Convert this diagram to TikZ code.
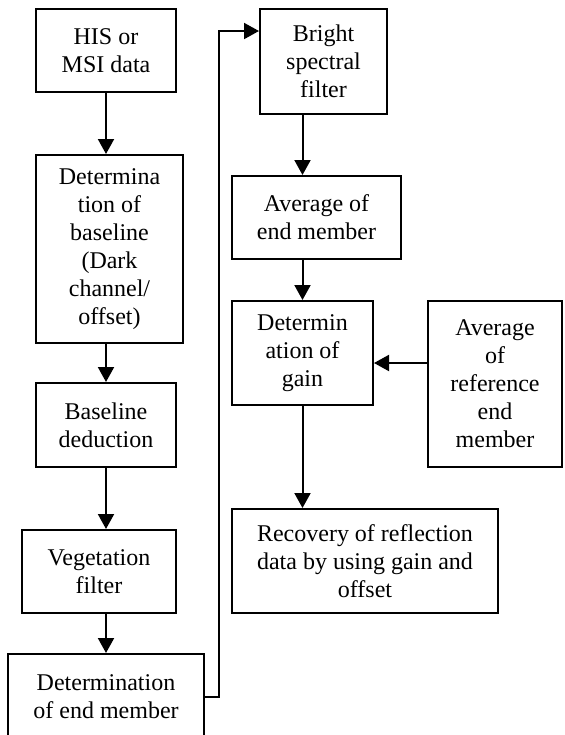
\documentclass[tikz,border=0pt]{standalone}
\usepackage{fontspec}
\setmainfont{Liberation Serif}
\usetikzlibrary{arrows.meta,positioning,calc}

\begin{document}
\begin{tikzpicture}[x=0.5pt,y=-0.5pt,
  box/.style={draw,line width=1pt,align=center,inner sep=0pt,
    font=\fontsize{12}{14}\selectfont},
  arr/.style={line width=1pt,-{Triangle[length=7.5pt,width=8pt]}}]
  \useasboundingbox (0,0) rectangle (564,735);
  \clip (0,0) rectangle (564,735);
  % left column
  \node[box,minimum width=70pt,minimum height=41.5pt] (his) at (106,50.5) {HIS or\\MSI data};
  \node[box,minimum width=73.5pt,minimum height=94pt] (base) at (109.5,249) {Determina\\tion of\\baseline\\(Dark\\channel/\\offset)};
  \node[box,minimum width=70pt,minimum height=42pt] (deduct) at (106,425) {Baseline\\deduction};
  \node[box,minimum width=77pt,minimum height=41.5pt] (veg) at (99,571.5) {Vegetation\\filter};
  \node[box,minimum width=98pt,minimum height=43pt] (endm) at (106,697) {Determination\\of end member};
  % right column
  \node[box,minimum width=63.5pt,minimum height=52.5pt] (bright) at (323.5,61.5) {Bright\\spectral\\filter};
  \node[box,minimum width=84.5pt,minimum height=41.5pt] (avg) at (316.5,217.5) {Average of\\end member};
  \node[box,minimum width=70.5pt,minimum height=52pt] (gain) at (302.5,353) {Determin\\ation of\\gain};
  \node[box,minimum width=67pt,minimum height=83pt] (ref) at (495,384) {Average\\of\\reference\\end\\member};
  \node[box,minimum width=133pt,minimum height=52pt] (recov) at (365,561) {Recovery of reflection\\data by using gain and\\offset};
  \coordinate (turn) at (219,31);
  % arrows
  \draw[arr] (his.south -| 106,0) -- (base.north -| 106,0);
  \draw[arr] (base.south -| deduct.north) -- (deduct.north);
  \draw[arr] (deduct.south) -- (deduct.south |- veg.north);
  \draw[arr] (veg.south -| endm.north) -- (endm.north);
  \draw[arr] (endm.east) -| (turn) -- (turn -| bright.west);
  \draw[arr] (gain.north |- bright.south) -- (gain.north |- avg.north);
  \draw[arr] (gain.north |- avg.south) -- (gain.north);
  \draw[arr] (ref.west |- 0,363) -- (gain.east |- 0,363);
  \draw[arr] (gain.south) -- (gain.south |- recov.north);
\end{tikzpicture}
\end{document}
